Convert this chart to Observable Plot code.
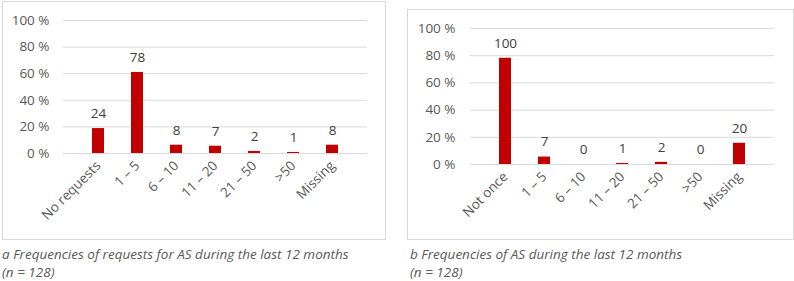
<!DOCTYPE html>
<html><head><meta charset="utf-8">
<script src="https://cdn.jsdelivr.net/npm/d3@7"></script>
<script src="https://cdn.jsdelivr.net/npm/@observablehq/plot@0.6"></script>
<style>
body{margin:0;background:#fff;}
#wrap{position:relative;width:794px;height:281px;overflow:hidden;font-family:"Open Sans",sans-serif;}
.box{position:absolute;border:1px solid #d9d9d9;box-sizing:border-box;}
.plot{position:absolute;}
.cap{position:absolute;font-family:"Open Sans",sans-serif;font-style:italic;font-size:13.5px;color:#595959;line-height:18px;white-space:nowrap;}
</style></head>
<body><div id="wrap"></div>
<script>
const catsA = ["No requests","1 – 5","6 – 10","11 – 20","21 – 50",">50","Missing"];
const countsA = [24,78,8,7,2,1,8];
const catsB = ["Not once","1 – 5","6 – 10","11 – 20","21 – 50",">50","Missing"];
const countsB = [100,7,0,1,2,0,20];
const nTotal = 128;
const yTicks = [0,20,40,60,80,100];
const captionA = ["a Frequencies of requests for AS during the last 12 months","(n = 128)"];
const captionB = ["b Frequencies of AS during the last 12 months","(n = 128)"];

const wrap = document.getElementById("wrap");
function addBox(l,t,w,h){const d=document.createElement("div");d.className="box";Object.assign(d.style,{left:l+"px",top:t+"px",width:w+"px",height:h+"px"});wrap.appendChild(d);}
function addCap(l,t,lines){const d=document.createElement("div");d.className="cap";d.style.left=l+"px";d.style.top=t+"px";d.innerHTML=lines.join("<br>");wrap.appendChild(d);}

function makePlot(cats, counts, o){
  const data = cats.map((c,i)=>({cat:c,n:counts[i],pct:counts[i]/nTotal*100}));
  const p = Plot.plot({
    width:o.width,height:o.height,
    marginLeft:o.ml,marginRight:o.mr,marginTop:o.mt,marginBottom:o.mb,
    style:{fontFamily:"Open Sans, sans-serif",fontSize:"13.5px",color:"#595959",background:"transparent"},
    x:{domain:cats,padding:0.7,label:null},
    y:{domain:[0,100],label:null},
    marks:[
      Plot.ruleY(yTicks,{stroke:"#d9d9d9",strokeWidth:1}),
      Plot.axisY({ticks:yTicks,tickFormat:d=>d+" %",tickSize:0,tickPadding:o.yPad,fill:"#595959",label:null}),
      Plot.axisX({tickSize:0,tickRotate:-45,tickPadding:10,fill:"#595959",label:null}),
      Plot.barY(data,{x:"cat",y:"pct",fill:"#c00000"}),
      Plot.text(data,{x:"cat",y:"pct",text:d=>String(d.n),dy:-15,fill:"#404040",fontSize:13.5})
    ]
  });
  p.classList.add("plot");
  p.style.left=o.left+"px";p.style.top=o.top+"px";
  wrap.appendChild(p);
}

addBox(2,1,384,239);
addBox(407,9,387,231);
makePlot(catsA,countsA,{left:0,top:0,width:390,height:240,ml:63,mr:23,mt:20,mb:87,yPad:14});
makePlot(catsB,countsB,{left:400,top:0,width:394,height:240,ml:70,mr:20,mt:28,mb:76,yPad:15});
addCap(2,245,captionA);
addCap(410,245,captionB);
</script></body></html>
